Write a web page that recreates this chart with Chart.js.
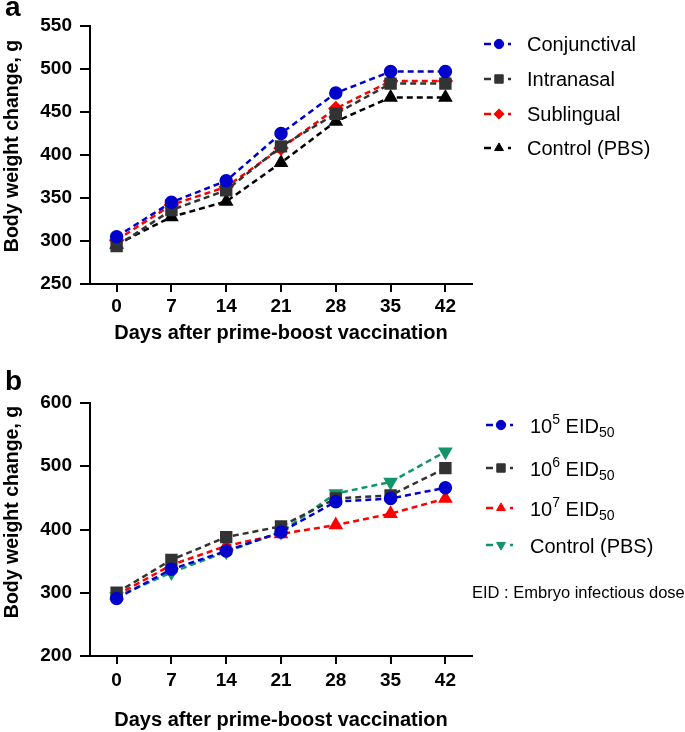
<!DOCTYPE html>
<html>
<head>
<meta charset="utf-8">
<script src="https://cdn.jsdelivr.net/npm/chart.js@4.4.0/dist/chart.umd.min.js"></script>
<style>
  html, body { margin: 0; padding: 0; background: #fff; }
  #wrap { position: relative; width: 685px; height: 732px; overflow: hidden; }
  canvas { position: absolute; left: 0; }
</style>
</head>
<body>
<div id="wrap">
  <canvas id="chartA" width="685" height="360" style="top:0px"></canvas>
  <canvas id="chartB" width="685" height="372" style="top:360px"></canvas>
</div>
<script>
// Days (x axis categories)
var days = [0, 7, 14, 21, 28, 35, 42];

// Panel a: vaccination route
var namesA = ['Conjunctival', 'Intranasal', 'Sublingual', 'Control (PBS)'];
var conjunctival = [305, 345, 370, 425, 472, 497, 497];
var intranasal   = [294, 336, 359, 410, 448, 483, 483];
var sublingual   = [301, 342, 363, 408, 454, 486, 486];
var controlA     = [296, 328, 346, 391, 439, 467, 467];

// Panel b: vaccine dose (^ = superscript, _ = subscript)
var namesB = ['10^5 EID_50', '10^6 EID_50', '10^7 EID_50', 'Control (PBS)'];
var dose5    = [291, 337, 366, 396, 444, 449, 466];
var dose6    = [300, 352, 388, 405, 449, 454, 497];
var dose7    = [296, 344, 374, 393, 407, 425, 449];
var controlB = [294, 332, 365, 396, 457, 475, 523];

var FONT = 'Arial, "Liberation Sans", sans-serif';

function points(vals) {
  return days.map(function (d, i) { return { x: d, y: vals[i] }; });
}

function series(label, vals, color, style, radius, rotation) {
  return {
    label: label,
    data: points(vals),
    borderColor: color,
    backgroundColor: color,
    pointBackgroundColor: color,
    pointBorderColor: color,
    pointStyle: style,
    pointRadius: radius,
    pointRotation: rotation || 0,
    borderWidth: 2.5,
    borderDash: [6, 4],
    tension: 0
  };
}

// Axes shared by both panels
function makeScales(yMin, yMax, yStep, xPad, titlePad) {
  return {
    x: {
      type: 'linear', min: -3.4, max: 45.4,
      afterBuildTicks: function (s) { s.ticks = days.map(function (d) { return { value: d }; }); },
      afterFit: function (s) { s.height = 76; },
      border: { display: true, color: '#000', width: 2 },
      grid: { drawOnChartArea: false, drawTicks: true, tickLength: 8, color: '#000', lineWidth: 2 },
      ticks: { color: '#000', padding: xPad, maxRotation: 0, font: { family: FONT, size: 19, weight: 'bold' } },
      title: {
        display: true, text: 'Days after prime-boost vaccination', color: '#000',
        font: { family: FONT, size: 20, weight: 'bold' }, padding: { top: 0, bottom: titlePad }
      }
    },
    y: {
      min: yMin, max: yMax,
      afterFit: function (s) { s.width = 90; },
      border: { display: true, color: '#000', width: 2 },
      grid: { drawOnChartArea: false, drawTicks: true, tickLength: 10, color: '#000', lineWidth: 2 },
      ticks: { stepSize: yStep, color: '#000', padding: 8, font: { family: FONT, size: 19, weight: 'bold' } }
    }
  };
}

// Text with ^superscript and _subscript parts
function drawRich(ctx, text, x, y, size) {
  text.split(/([\^_]\d+)/).forEach(function (p) {
    if (!p) return;
    var sz = size, dy = 0;
    if (p[0] === '^') { p = p.slice(1); sz = size * 0.7; dy = -size * 0.36; }
    else if (p[0] === '_') { p = p.slice(1); sz = size * 0.7; dy = size * 0.32; }
    ctx.font = sz + 'px ' + FONT;
    ctx.fillText(p, x, y + dy);
    x += ctx.measureText(p).width;
  });
}

// Panel letter, y title, legend and note
var decor = {
  id: 'decor',
  afterDraw: function (chart, args, o) {
    var ctx = chart.ctx;
    ctx.save();
    ctx.fillStyle = '#000';
    ctx.textBaseline = 'alphabetic';
    ctx.textAlign = 'left';
    ctx.font = 'bold 28px ' + FONT;
    ctx.fillText(o.letter, 5, o.letterY);

    ctx.save();
    ctx.translate(13, o.titleY);
    ctx.rotate(-Math.PI / 2);
    ctx.textAlign = 'center';
    ctx.textBaseline = 'middle';
    ctx.font = 'bold 19.5px ' + FONT;
    ctx.fillText('Body weight change, g', 0, 0);
    ctx.restore();

    chart.data.datasets.forEach(function (ds, i) {
      var y = o.rows[i];
      ctx.strokeStyle = ds.borderColor;
      ctx.fillStyle = ds.borderColor;
      ctx.lineWidth = 2.5;
      ctx.beginPath(); ctx.moveTo(o.lx, y); ctx.lineTo(o.lx + 7, y); ctx.stroke();
      ctx.beginPath(); ctx.moveTo(o.lx + 24, y); ctx.lineTo(o.lx + 27, y); ctx.stroke();
      ctx.lineWidth = 1;
      Chart.helpers.drawPoint(ctx, {
        pointStyle: ds.pointStyle, rotation: ds.pointRotation, radius: ds.pointRadius * 0.85, borderWidth: 1
      }, o.lx + 15, y);
      ctx.fillStyle = '#000';
      ctx.textBaseline = 'middle';
      drawRich(ctx, ds.label, o.tx, y + o.textDy, 20);
    });

    if (o.note) {
      ctx.fillStyle = '#000';
      ctx.textBaseline = 'middle';
      ctx.font = '16.5px ' + FONT;
      ctx.fillText(o.note, 472, o.noteY);
    }
    ctx.restore();
  }
};

// Panel a
new Chart(document.getElementById('chartA'), {
  type: 'line',
  data: {
    datasets: [
      series(namesA[0], conjunctival, '#0000CC', 'circle', 5.5),
      series(namesA[1], intranasal, '#333333', 'rect', 7),
      series(namesA[2], sublingual, '#FF0000', 'rectRot', 6),
      series(namesA[3], controlA, '#000000', 'triangle', 6)
    ]
  },
  options: {
    responsive: false,
    animation: false,
    layout: { padding: { left: 0, right: 213, top: 26, bottom: 0 } },
    scales: makeScales(250, 550, 50, 3, 15),
    plugins: {
      legend: { display: false },
      tooltip: { enabled: false },
      decor: { letter: 'a', letterY: 16, titleY: 146, lx: 484, tx: 527, rows: [44, 79, 114, 148], textDy: 1 }
    }
  },
  plugins: [decor]
});

// Panel b
new Chart(document.getElementById('chartB'), {
  type: 'line',
  data: {
    datasets: [
      series(namesB[0], dose5, '#0000CC', 'circle', 5.5),
      series(namesB[1], dose6, '#333333', 'rect', 7),
      series(namesB[2], dose7, '#FF0000', 'triangle', 6),
      series(namesB[3], controlB, '#12956A', 'triangle', 6, 180)
    ]
  },
  options: {
    responsive: false,
    animation: false,
    layout: { padding: { left: 0, right: 213, top: 43, bottom: 0 } },
    scales: makeScales(200, 600, 100, 5, 0),
    plugins: {
      legend: { display: false },
      tooltip: { enabled: false },
      decor: {
        letter: 'b', letterY: 30, titleY: 152, lx: 486, tx: 530, rows: [65, 108, 148, 185], textDy: 2,
        note: 'EID : Embryo infectious dose', noteY: 233
      }
    }
  },
  plugins: [decor]
});
</script>
</body>
</html>
